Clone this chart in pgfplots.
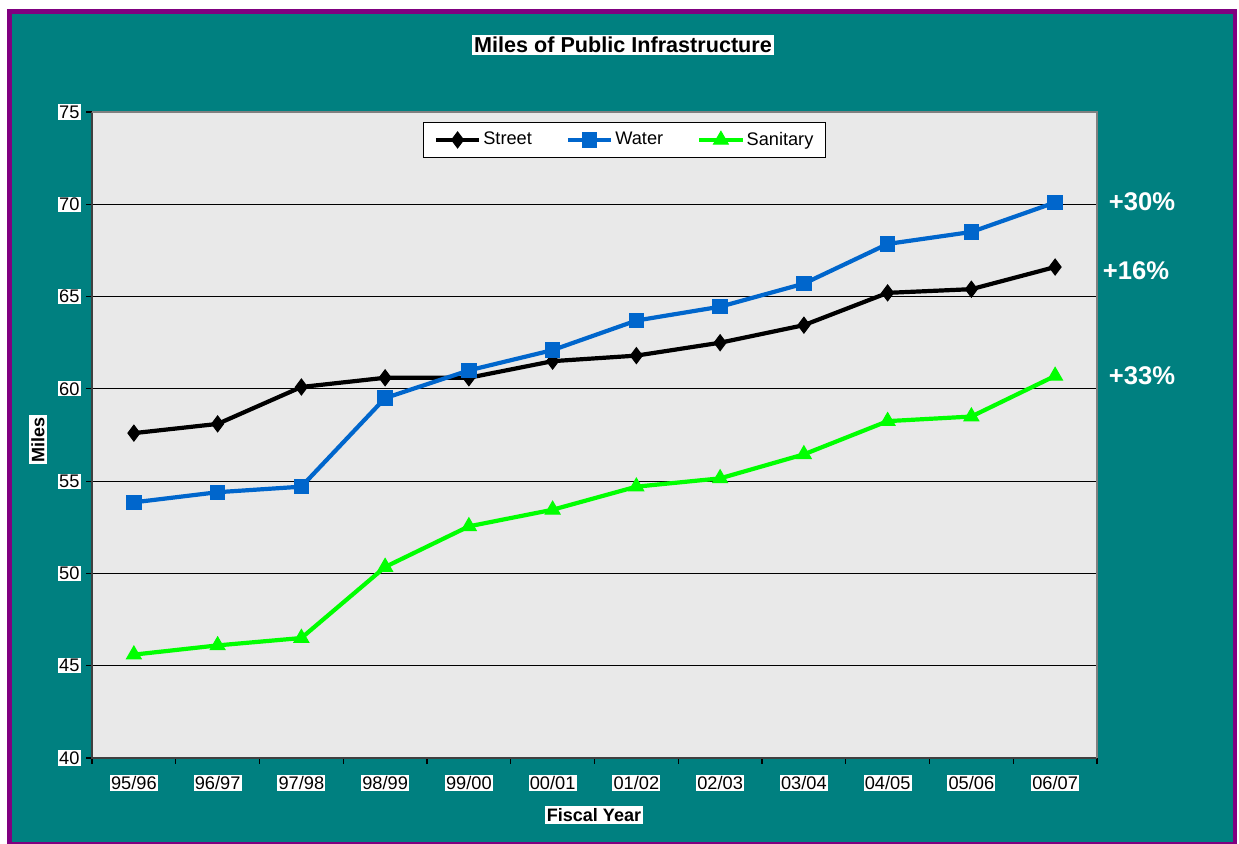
\documentclass[border=0pt]{standalone}
\usepackage{pgfplots}
\pgfplotsset{compat=1.18}
\usepackage{fontspec}
\setmainfont{Liberation Sans}
\definecolor{teal0}{RGB}{0,128,128}
\definecolor{purp}{RGB}{128,0,128}
\definecolor{plotbg}{RGB}{233,233,233}
\definecolor{wblue}{RGB}{0,102,204}
\definecolor{sgreen}{RGB}{0,255,0}
\begin{document}
\begin{tikzpicture}
\useasboundingbox (0pt,0pt) rectangle (619.5pt,422pt);
\fill[white] (0pt,0pt) rectangle (619.5pt,422pt);
\fill[purp] (3.5pt,0pt) rectangle (618.5pt,417.5pt);
\fill[teal0] (6pt,1pt) rectangle (616.5pt,415pt);
\begin{axis}[
  at={(46pt,43pt)}, anchor=south west,
  scale only axis, width=502.5pt, height=323pt,
  xmin=-0.5, xmax=11.5, ymin=40, ymax=75,
  axis background/.style={fill=plotbg},
  xtick={0,...,11},
  xticklabels={95/96,96/97,97/98,98/99,99/00,00/01,01/02,02/03,03/04,04/05,05/06,06/07},
  major x tick style={draw=none},
  minor xtick={-0.5,0.5,...,11.5},
  minor tick length=3pt,
  ytick={40,45,...,75},
  major tick length=3pt,
  tick align=outside,
  xtick pos=bottom, ytick pos=left,
  ymajorgrids, grid style={black, line width=0.5pt},
  tick style={black, line width=0.6pt},
  axis line style={draw=none},
  every tick label/.append style={fill=white, inner sep=0.6pt, font=\fontsize{9.1}{10}\selectfont, text=black},
  xticklabel style={yshift=-5.5pt},
  yticklabel style={xshift=-2.5pt},
  /pgf/number format/assume math mode=true,
  legend style={at={(0.530,0.984)}, anchor=north, legend columns=3, draw=black, line width=0.5pt,
    fill=white, font=\fontsize{9.1}{10}\selectfont, inner xsep=5pt, inner ysep=2.5pt,
    nodes={inner xsep=1pt},
    /tikz/every even column/.append style={column sep=16pt}},
  legend image code/.code={\draw[mark repeat=2,mark phase=2] plot coordinates {(0cm,0cm) (0.38cm,0cm) (0.76cm,0cm)};},
  legend cell align=left,
  clip=false,
]
\addplot[black, line width=2.1pt, mark=diamond*, mark size=4pt, mark options={solid, line width=0.5pt}] coordinates {
(0,57.6)(1,58.1)(2,60.1)(3,60.6)(4,60.6)(5,61.5)(6,61.8)(7,62.5)(8,63.45)(9,65.2)(10,65.4)(11,66.6)};
\addlegendentry{Street}
\addplot[wblue, line width=2.1pt, mark=square*, mark size=3.6pt, mark options={solid, line width=0.5pt}] coordinates {
(0,53.85)(1,54.4)(2,54.7)(3,59.5)(4,61.0)(5,62.1)(6,63.7)(7,64.45)(8,65.7)(9,67.85)(10,68.5)(11,70.1)};
\addlegendentry{Water}
\addplot[sgreen, line width=2.1pt, mark=triangle*, mark size=4.3pt, mark options={solid, line width=0.5pt}] coordinates {
(0,45.6)(1,46.1)(2,46.5)(3,50.35)(4,52.55)(5,53.45)(6,54.7)(7,55.15)(8,56.45)(9,58.25)(10,58.5)(11,60.7)};
\addlegendentry{Sanitary}
\draw[black!75, line width=1pt] (rel axis cs:0,1) -- (rel axis cs:0,0) -- (rel axis cs:1,0);
\draw[gray, line width=0.8pt] (rel axis cs:0,1) -- (rel axis cs:1,1) -- (rel axis cs:1,0);
\end{axis}
\node[fill=white, inner sep=1.2pt, font=\bfseries\fontsize{10.8}{12}\selectfont] at (311.5pt,399.5pt) {Miles of Public Infrastructure};
\node[fill=white, inner sep=1pt, rotate=90, font=\bfseries\fontsize{9}{10}\selectfont] at (19pt,202pt) {Miles};
\node[fill=white, inner sep=1pt, font=\bfseries\fontsize{9}{10}\selectfont] at (297pt,14.5pt) {Fiscal Year};
\node[text=white, font=\bfseries\fontsize{12.8}{14}\selectfont] at (571pt,321pt) {+30\%};
\node[text=white, font=\bfseries\fontsize{12.8}{14}\selectfont] at (568pt,286.5pt) {+16\%};
\node[text=white, font=\bfseries\fontsize{12.8}{14}\selectfont] at (571pt,234pt) {+33\%};
\end{tikzpicture}
\end{document}
